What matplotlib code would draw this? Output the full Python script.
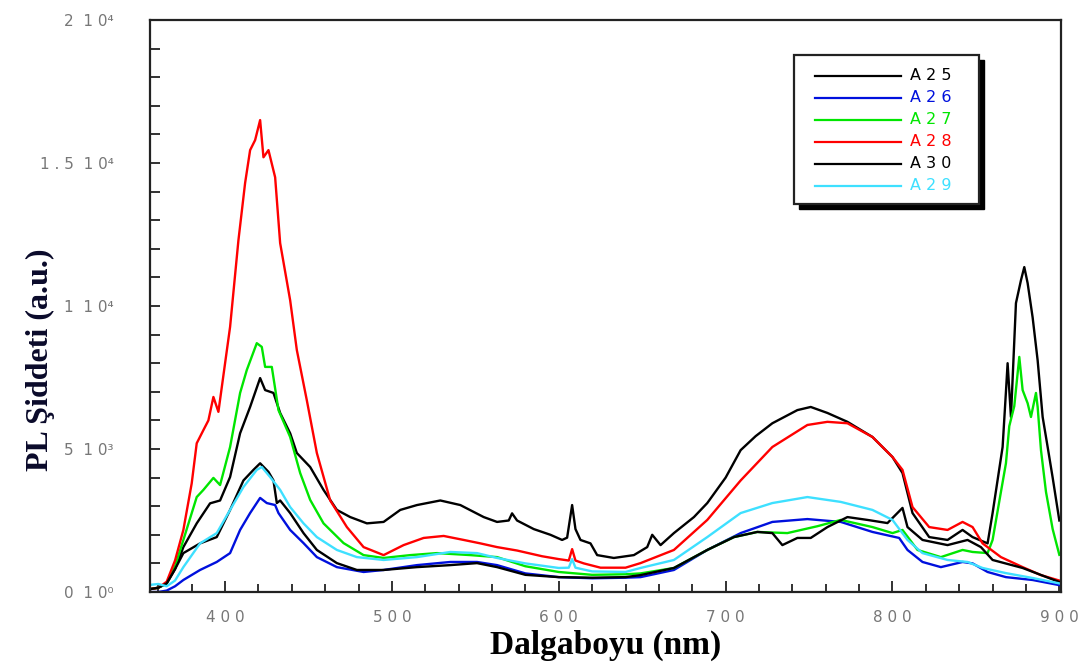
import matplotlib
matplotlib.use("Agg")
import matplotlib.pyplot as plt
from matplotlib.ticker import MultipleLocator, FixedLocator, FixedFormatter
from matplotlib.patches import Rectangle
from matplotlib.lines import Line2D

# ---------------- data ----------------
a25_x = [355, 360, 365, 370, 375, 383, 391, 397, 403, 409, 415, 421, 424, 429, 433, 439, 443, 451, 459, 467,
         475, 485, 495, 505, 515, 529, 541, 555, 563, 570, 572, 575, 585, 595, 602, 605, 608, 610, 613, 619,
         623, 633, 645, 653, 656, 661, 669, 681, 689, 700, 709, 718, 728, 743, 751, 761, 773, 788, 800, 806,
         812, 822, 833, 842, 848, 857, 860, 866, 868, 869, 871, 874, 877, 879, 881, 884, 887, 890, 893, 896, 900]
a25_y = [100, 150, 300, 800, 1570, 2400, 3100, 3200, 4020, 5550, 6470, 7480, 7060, 6960, 6260, 5550, 4860, 4370, 3570, 2870,
         2620, 2400, 2450, 2870, 3040, 3200, 3040, 2620, 2450, 2500, 2750, 2500, 2200, 2000, 1820, 1900, 3040, 2200, 1820, 1700,
         1290, 1190, 1290, 1570, 2000, 1640, 2060, 2620, 3110, 4000, 4960, 5450, 5900, 6360, 6470, 6260, 5950, 5420, 4720, 4160,
         2760, 1920, 1820, 2170, 1920, 1700, 2760, 5070, 7000, 8000, 6120, 10100, 10900, 11360, 10800, 9600, 8100, 6120, 5070, 4000, 2500]

a26_x = [355, 360, 365, 370, 375, 385, 395, 403, 409, 415, 421, 425, 430, 432, 439, 447, 455, 467, 483, 495,
         515, 535, 551, 563, 580, 600, 620, 640, 649, 669, 689, 709, 728, 749, 769, 788, 804, 809, 818, 829,
         842, 848, 857, 868, 884, 900]
a26_y = [0, 0, 50, 200, 420, 770, 1050, 1360, 2170, 2760, 3290, 3110, 3040, 2760, 2170, 1710, 1220, 870, 700, 770,
         940, 1050, 1050, 940, 650, 520, 480, 500, 520, 770, 1470, 2060, 2450, 2550, 2450, 2100, 1890, 1470, 1050, 870,
         1050, 1000, 700, 520, 420, 240]

a27_x = [355, 360, 365, 370, 375, 383, 387, 393, 397, 403, 409, 413, 419, 422, 424, 428, 432, 439, 445, 451,
         459, 471, 483, 495, 511, 527, 547, 563, 580, 600, 620, 640, 649, 669, 689, 705, 719, 737, 755, 769,
         788, 800, 806, 815, 829, 842, 848, 857, 860, 865, 868, 870, 873, 876, 878, 881, 883, 886, 887, 889,
         892, 896, 900]
a27_y = [100, 150, 300, 900, 1820, 3320, 3570, 3990, 3740, 5070, 6960, 7760, 8700, 8570, 7870, 7870, 6360, 5420, 4160, 3220,
         2400, 1710, 1290, 1190, 1290, 1360, 1290, 1220, 900, 700, 600, 620, 650, 840, 1470, 1920, 2100, 2060, 2300, 2520,
         2270, 2060, 2170, 1470, 1220, 1470, 1400, 1360, 1820, 3500, 4500, 5800, 6500, 8220, 7060, 6600, 6120, 6960, 6470, 4960,
         3500, 2200, 1300]

a28_x = [355, 360, 365, 370, 375, 380, 383, 387, 390, 393, 396, 400, 403, 408, 412, 415, 418, 421, 423, 426,
         430, 433, 436, 439, 443, 449, 455, 463, 473, 483, 495, 507, 519, 531, 543, 553, 563, 575, 590, 600,
         606, 608, 610, 615, 625, 640, 649, 669, 689, 709, 728, 749, 761, 773, 788, 800, 806, 812, 822, 833,
         842, 848, 854, 865, 878, 889, 900]
a28_y = [100, 150, 360, 1100, 2170, 3800, 5200, 5660, 6000, 6820, 6300, 8000, 9270, 12300, 14300, 15450, 15800, 16500, 15200, 15450,
         14500, 12200, 11200, 10200, 8460, 6700, 4860, 3200, 2270, 1570, 1290, 1640, 1890, 1960, 1820, 1700, 1570, 1450, 1250, 1150,
         1100, 1500, 1100, 1000, 850, 850, 1010, 1470, 2520, 3900, 5070, 5840, 5950, 5900, 5420, 4720, 4270, 2970, 2270, 2170,
         2450, 2270, 1700, 1220, 870, 590, 400]

a30_x = [355, 360, 365, 370, 375, 385, 395, 403, 411, 417, 421, 426, 429, 431, 433, 439, 447, 455, 467, 479,
         495, 515, 535, 551, 563, 580, 600, 620, 640, 649, 669, 689, 705, 719, 728, 734, 743, 751, 761, 773,
         785, 797, 806, 809, 818, 833, 845, 853, 860, 878, 900]
a30_y = [100, 150, 300, 800, 1360, 1700, 1920, 2870, 3900, 4270, 4500, 4200, 3900, 3110, 3200, 2760, 2060, 1470, 1010, 770,
         770, 870, 940, 1010, 870, 600, 520, 500, 520, 590, 840, 1470, 1920, 2100, 2060, 1640, 1890, 1890, 2270, 2620,
         2520, 2410, 2940, 2270, 1820, 1640, 1820, 1570, 1120, 840, 350]

a29_x = [355, 360, 365, 370, 375, 385, 395, 403, 411, 419, 422, 427, 433, 439, 447, 455, 467, 479, 495, 515,
         535, 551, 563, 580, 600, 606, 608, 610, 620, 640, 649, 669, 689, 709, 728, 749, 769, 788, 800, 809,
         818, 833, 845, 854, 868, 884, 900]
a29_y = [250, 280, 200, 400, 870, 1700, 2060, 2870, 3670, 4270, 4370, 4020, 3570, 2970, 2400, 1920, 1470, 1220, 1120, 1220,
         1400, 1360, 1190, 1000, 840, 850, 1150, 850, 720, 700, 840, 1120, 1920, 2760, 3110, 3320, 3150, 2870, 2520, 1820,
         1360, 1120, 1050, 840, 660, 490, 300]

series_labels = ["A 2 5", "A 2 6", "A 2 7", "A 2 8", "A 3 0", "A 2 9"]
series_colors = ["#000000", "#0010dd", "#00e600", "#ff0000", "#000000", "#3ee0ff"]

x_ticks = [400, 500, 600, 700, 800, 900]
x_ticklabels = ["4 0 0", "5 0 0", "6 0 0", "7 0 0", "8 0 0", "9 0 0"]
y_ticks = [0, 5000, 10000, 15000, 20000]
y_ticklabels = ["0  1 0\u2070", "5  1 0\u00b3", "1  1 0\u2074", "1 . 5  1 0\u2074", "2  1 0\u2074"]

xlabel = "Dalgaboyu (nm)"
ylabel = "PL \u015eiddeti (a.u.)"

# ---------------- figure ----------------
W, H = 1087, 666
fig = plt.figure(figsize=(W / 100, H / 100), dpi=100)
ax = fig.add_axes([150 / W, 1 - 592 / H, (1061 - 150) / W, (592 - 20) / H])

xs = [a25_x, a26_x, a27_x, a28_x, a30_x, a29_x]
ys = [a25_y, a26_y, a27_y, a28_y, a30_y, a29_y]
for xv, yv, c in zip(xs, ys, series_colors):
    ax.plot(xv, yv, color=c, lw=1.7)

ax.set_xlim(355, 901)
ax.set_ylim(0, 20000)

ax.xaxis.set_major_locator(FixedLocator(x_ticks))
ax.xaxis.set_major_formatter(FixedFormatter(x_ticklabels))
ax.xaxis.set_minor_locator(MultipleLocator(20))
ax.yaxis.set_major_locator(FixedLocator(y_ticks))
ax.yaxis.set_major_formatter(FixedFormatter(y_ticklabels))
ax.yaxis.set_minor_locator(MultipleLocator(1000))

ax.tick_params(axis="both", which="both", direction="in", top=False, right=False,
               colors="#222222", labelcolor="#777777", labelsize=11, width=1.3)
ax.tick_params(axis="x", which="major", length=8, pad=13)
ax.tick_params(axis="x", which="minor", length=6)
ax.tick_params(axis="y", which="major", length=7, pad=26)
ax.tick_params(axis="y", which="minor", length=7)
for sp in ax.spines.values():
    sp.set_linewidth(1.6)
    sp.set_color("#222222")

fig.text(606 / W, 1 - 645 / H, xlabel, ha="center", va="center",
         family="Liberation Serif", weight="bold", fontsize=24, color="#000000")
fig.text(40 / W, 1 - 360 / H, ylabel, ha="center", va="center", rotation=90,
         family="Liberation Serif", weight="bold", fontsize=23, color="#0a0a2a")

# ---------------- legend (manual, with drop shadow) ----------------
bx0, by0, bx1, by1 = 794, 55, 979, 204
shadow = Rectangle(((bx0 + 5) / W, 1 - (by1 + 5) / H), (bx1 - bx0) / W, (by1 - by0) / H,
                   transform=fig.transFigure, facecolor="black", edgecolor="black", zorder=5)
box = Rectangle((bx0 / W, 1 - by1 / H), (bx1 - bx0) / W, (by1 - by0) / H,
                transform=fig.transFigure, facecolor="white", edgecolor="#222222", lw=1.6, zorder=6)
fig.add_artist(shadow)
fig.add_artist(box)
row0, step = 76, 22
for i, (lab, c) in enumerate(zip(series_labels, series_colors)):
    yy = 1 - (row0 + i * step) / H
    fig.add_artist(Line2D([815 / W, 901 / W], [yy, yy], transform=fig.transFigure,
                          color=c, lw=1.6, zorder=7))
    fig.text(910 / W, yy, lab, ha="left", va="center", fontsize=11.5, color=c, zorder=7)

fig.savefig("out.png", dpi=100)
